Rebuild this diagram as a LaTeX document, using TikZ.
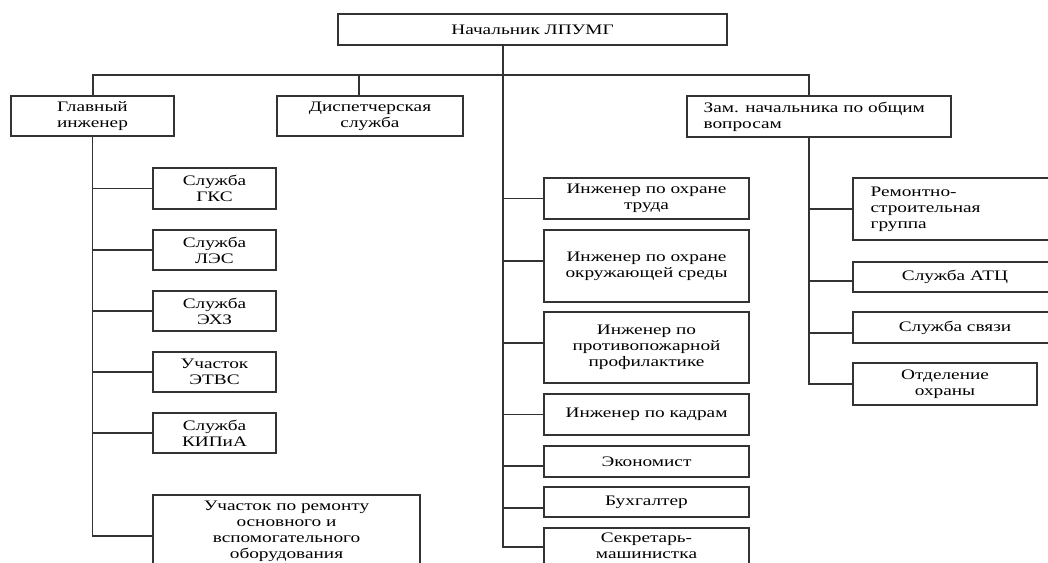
\documentclass[tikz,border=0pt]{standalone}
\usepackage{fontspec}
\setmainfont{Liberation Serif}[FakeStretch=1.33]
\newcommand\fs{\fontsize{14.5}{16}\selectfont}
\newcommand\obox[7][]{\node[box,minimum width={#5pt-#3pt},minimum height={#6pt-#4pt},#1] (#2) at ({(#3+#5)/2},{(#4+#6)/2}) {#7};}
\begin{document}
\begin{tikzpicture}[x=1pt,y=-1pt,
  box/.style={draw=black!80,line width=1.2pt,fill=white,inner sep=0pt,align=center,font=\fs,text=black},
  link/.style={draw=black!80,line width=1.2pt},
  lbl/.style={inner sep=0pt,align=left,font=\fs,text=black,anchor=west}]
\useasboundingbox (0,0) rectangle (1048,562);
\clip (0,0) rectangle (1048,562);
% level 0 and 1
\obox{top}{338}{14}{727}{45}{Начальник ЛПУМГ}
\obox{gi}{11}{96}{174}{136}{Главный\\инженер}
\obox{disp}{277}{96}{463}{136}{Диспетчерская\\служба}
\obox{zam}{687}{96}{951}{137}{}
\node[lbl] (zamt) at ([xshift=17pt]zam.west) {Зам. начальника по общим\\вопросам};
% left column
\obox{gks}{153}{168}{276}{209}{Служба\\ГКС}
\obox{les}{153}{230}{276}{270}{Служба\\ЛЭС}
\obox{ehz}{153}{291}{276}{331}{Служба\\ЭХЗ}
\obox{etvs}{153}{352}{276}{392}{Участок\\ЭТВС}
\obox{kip}{153}{413}{276}{453}{Служба\\КИПиА}
\obox{rem}{153}{495}{420}{567}{Участок по ремонту\\основного и\\вспомогательного\\оборудования}
% middle column
\obox{ohr}{544}{178}{749}{219}{Инженер по охране\\труда}
\obox{okr}{544}{230}{749}{302}{Инженер по охране\\окружающей среды}
\obox{prot}{544}{312}{749}{383}{Инженер по\\противопожарной\\профилактике}
\obox{kadr}{544}{394}{749}{435}{Инженер по кадрам}
\obox{ekon}{544}{446}{749}{477}{Экономист}
\obox{buh}{544}{487}{749}{517}{Бухгалтер}
\obox{sek}{544}{528}{749}{564}{Секретарь-\\машинистка}
% right column
\obox{rsg}{853}{178}{1060}{240}{}
\node[lbl] (rsgt) at ([xshift=18pt]rsg.west) {Ремонтно-\\строительная\\группа};
\obox{atc}{853}{262}{1057}{292}{Служба АТЦ}
\obox{svz}{853}{312}{1057}{343}{Служба связи}
\obox{otd}{853}{363}{1037}{405}{Отделение\\охраны}
% connectors
\coordinate (bl) at (93,75);
\coordinate (bm) at (359,75);
\coordinate (tr) at (503,75);
\coordinate (br) at (809,75);
\draw[link] (tr |- top.south) |- ([yshift=-1pt]sek.west);
\draw[link] (bl |- gi.north) -- (bl) -- (br) -- (br |- zam.north);
\draw[link] (bm) -- (bm |- disp.north);
\draw[link] (gi.south) |- ([yshift=-5pt]rem.west);
\foreach \n in {gks,les,ehz,etvs,kip} \draw[link] (gi.south |- \n.west) -- (\n.west);
\draw[link] (tr |- ohr.west) -- (ohr.west);
\draw[link] (tr |- okr.west) ++(0,-5) -- ([yshift=5pt]okr.west);
\draw[link] (tr |- prot.west) ++(0,-4.5) -- ([yshift=4.5pt]prot.west);
\draw[link] (tr |- kadr.west) -- (kadr.west);
\draw[link] (tr |- ekon.west) ++(0,4.5) -- ([yshift=-4.5pt]ekon.west);
\draw[link] (tr |- buh.west) ++(0,6) -- ([yshift=-6pt]buh.west);
\draw[link] (br |- zam.south) |- (otd.west);
\draw[link] (br |- rsg.west) -- (rsg.west);
\draw[link] (br |- atc.west) ++(0,4) -- ([yshift=-4pt]atc.west);
\draw[link] (br |- svz.west) ++(0,5.5) -- ([yshift=-5.5pt]svz.west);
\end{tikzpicture}
\end{document}
